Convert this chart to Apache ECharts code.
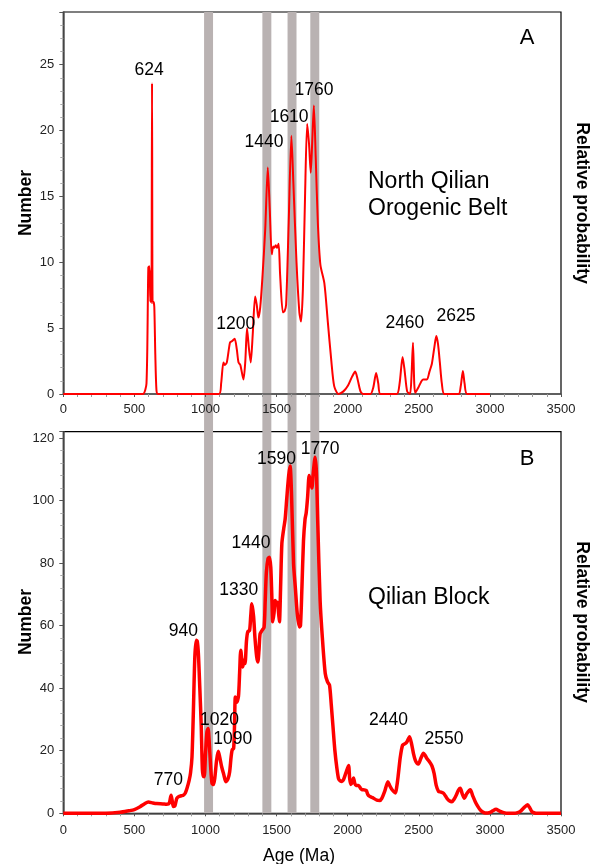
<!DOCTYPE html>
<html>
<head>
<meta charset="utf-8">
<script src="https://cdn.jsdelivr.net/npm/echarts@6/dist/echarts.min.js"></script>
<style>
  html, body { margin: 0; padding: 0; background: #fff; }
  #chart { width: 591px; height: 864px; }
</style>
</head>
<body>
<div id="chart"></div>
<script>
// Detrital zircon U-Pb age spectra (probability curves, number of grains)

// Panel A: North Qilian Orogenic Belt
const topAges = [0, 500, 560, 585, 598, 606, 612, 617, 620, 624, 628, 634, 640, 647, 655, 665,
  1095, 1110, 1126, 1136, 1150, 1172, 1185, 1205, 1220, 1232, 1245, 1267, 1280, 1292, 1305, 1318,
  1332, 1349, 1360, 1372, 1385, 1400, 1420, 1438, 1452, 1466, 1476, 1483, 1494, 1502, 1514, 1525,
  1544, 1556, 1567, 1585, 1604, 1618, 1640, 1660, 1672, 1685, 1700, 1715, 1728, 1740, 1750, 1762,
  1775, 1790, 1808, 1836, 1860, 1885, 1905, 1935, 1970, 2000, 2030, 2053, 2070, 2090, 2110, 2160,
  2180, 2200, 2215, 2230, 2345, 2365, 2386, 2400, 2418, 2438, 2448, 2459, 2468, 2475, 2497, 2515,
  2530, 2557, 2575, 2592, 2610, 2623, 2635, 2648, 2662, 2680, 2780, 2795, 2810, 2822, 2840, 3000];
const topCounts = [0, 0, 0, 0.8, 9.6, 9.7, 7.0, 9.4, 6.9, 23.6, 6.9, 7.0, 6.6, 3.0, 0.3, 0,
  0, 0.8, 2.4, 2.2, 2.4, 3.9, 4.0, 4.2, 3.4, 2.4, 2.2, 1.1, 2.5, 5.0, 3.5, 2.4,
  4.5, 7.4, 6.8, 5.8, 6.6, 8.8, 12.5, 17.2, 14.0, 10.6, 11.2, 11.1, 11.3, 11.1, 11.4, 9.0,
  6.2, 6.3, 6.8, 13.0, 19.6, 16.0, 10.0, 6.2, 5.5, 8.0, 15.0, 20.5, 19.0, 16.8, 19.0, 21.9,
  18.0, 13.0, 9.8, 8.4, 5.5, 2.5, 0.6, 0, 0.2, 0.6, 1.3, 1.7, 1.1, 0.2, 0, 0,
  0.5, 1.6, 0.8, 0, 0, 0.8, 2.8, 1.8, 0.2, 0, 1.2, 3.9, 0.8, 0.1, 0.5, 0.9,
  1.1, 1.1, 1.7, 2.3, 3.6, 4.4, 3.8, 2.4, 0.8, 0, 0, 0.6, 1.75, 0.8, 0, 0];

// Panel B: Qilian Block
const bottomAges = [0, 300, 400, 460, 500, 540, 570, 598, 630, 657, 700, 727, 745, 758, 766, 774,
  785, 798, 810, 830, 845, 858, 870, 885, 895, 905, 915, 925, 935, 942, 950, 960,
  970, 978, 984, 991, 1000, 1010, 1018, 1026, 1036, 1046, 1056, 1066, 1078, 1090, 1100, 1114,
  1128, 1143, 1158, 1170, 1180, 1188, 1198, 1204, 1210, 1220, 1232, 1240, 1248, 1262, 1270, 1278,
  1288, 1297, 1310, 1318, 1326, 1338, 1348, 1360, 1368, 1376, 1384, 1398, 1412, 1420, 1428, 1440,
  1450, 1459, 1466, 1473, 1482, 1490, 1498, 1506, 1514, 1520, 1528, 1537, 1550, 1560, 1572, 1585,
  1595, 1605, 1619, 1632, 1645, 1660, 1668, 1678, 1689, 1700, 1708, 1718, 1729, 1738, 1748, 1758,
  1771, 1780, 1790, 1806, 1822, 1842, 1858, 1872, 1884, 1896, 1910, 1924, 1936, 1947, 1960, 1971,
  1988, 2006, 2014, 2022, 2032, 2041, 2050, 2058, 2076, 2090, 2100, 2115, 2130, 2142, 2152, 2175,
  2205, 2225, 2240, 2260, 2283, 2296, 2311, 2335, 2345, 2355, 2370, 2386, 2404, 2416, 2435, 2451,
  2463, 2475, 2488, 2498, 2512, 2533, 2545, 2557, 2575, 2592, 2608, 2622, 2639, 2655, 2674, 2688,
  2698, 2715, 2733, 2748, 2763, 2780, 2792, 2805, 2820, 2838, 2862, 2880, 2897, 2915, 2932, 2950,
  2968, 2985, 3003, 3020, 3043, 3065, 3097, 3130, 3167, 3195, 3214, 3240, 3265, 3280, 3296, 3315,
  3331, 3500];
const bottomCounts = [0, 0, 0.3, 0.8, 1.2, 2.1, 3.0, 3.6, 3.3, 3.1, 3.0, 2.9, 3.2, 5.8, 4.0, 2.2,
  2.4, 4.8, 5.3, 5.6, 5.8, 6.5, 8.0, 10.5, 13, 18, 33, 50, 55.3, 55, 51, 40,
  28, 14, 12, 11.7, 19, 26, 27.1, 23, 15, 9.5, 9.2, 11.5, 17, 19.8, 18, 14.8,
  12.5, 10.1, 11, 13.3, 18, 20.3, 20.8, 28, 37.2, 35.5, 37.5, 45, 52.1, 46.8, 49, 47.9,
  55, 58, 58.5, 63, 67, 63, 56, 50, 48.4, 52, 57.4, 58.5, 59.5, 68, 77, 81.5,
  81.9, 78.7, 70, 61.2, 64, 68, 67, 67.5, 64, 61.2, 72, 86.2, 91, 94, 101, 108,
  111, 102, 80, 72, 64, 59.6, 60, 72, 87, 94, 96, 101, 108, 106, 104, 109,
  113.8, 109, 92, 68, 56, 44.7, 42, 41, 35, 28, 20, 14.4, 11, 10.4, 10.2, 10.8,
  13, 15.3, 11, 9.2, 10, 11.3, 9.5, 8.9, 8.9, 8, 7.6, 7.5, 7.3, 6, 5.5, 5,
  4.2, 4.1, 4.8, 7, 10.1, 8.8, 7.6, 6.5, 8.5, 12, 18, 21.8, 22.3, 22.8, 24.5, 21.8,
  19, 17, 16, 15.8, 17.3, 19.2, 18.5, 17.5, 16.5, 15.2, 12.7, 9, 7, 6.8, 6.4, 5.5,
  4.8, 4, 3.7, 4.5, 5.8, 7.5, 8, 6.3, 4.8, 6.3, 7.5, 5.5, 3.7, 2.2, 1.1, 0.4,
  0.1, 0.1, 0.3, 0.8, 1.3, 0.8, 0.2, 0, 0, 0.2, 0.6, 1.8, 2.7, 1.8, 0.5, 0.1,
  0, 0];

// Peak age labels: text, and the age / count where each label sits
const topPeakText = ['624', '1200', '1440', '1610', '1760', '2460', '2625'];
const topPeakAge = [603, 1212, 1412, 1588, 1763, 2402, 2761];
const topPeakCount = [24.6, 5.3, 19.1, 21.0, 23.1, 5.4, 5.9];
const bottomPeakText = ['770', '940', '1020', '1090', '1330', '1440', '1590', '1770', '2440', '2550'];
const bottomPeakAge = [739, 845, 1098, 1191, 1234, 1320, 1499, 1806, 2287, 2677];
const bottomPeakCount = [10.6, 58.2, 29.8, 23.7, 71.3, 86.5, 113.2, 116.4, 29.8, 23.7];

// Highlighted age intervals (Ma)
const bandStart = [990, 1400, 1577, 1737];
const bandEnd = [1053, 1463, 1640, 1800];

// Axis tick settings
const xTicks = { min: 0, max: 3500, interval: 500 };
const topY = { min: 0, max: 29, interval: 5 };
const bottomY = { min: 0, max: 122, interval: 20 };

const FONT = "'Liberation Sans', Arial, Helvetica, sans-serif";
const zip = (a, b) => a.map((v, i) => [v, b[i]]);

const chart = echarts.init(document.getElementById('chart'), null, { renderer: 'canvas' });

function xAxisDef(gridIndex, labelMargin) {
  return {
    type: 'value', gridIndex, min: xTicks.min, max: xTicks.max, interval: xTicks.interval,
    z: 3,
    axisLine: { show: true, onZero: false, lineStyle: { color: '#555', width: 1.5 } },
    axisTick: { show: true, inside: false, length: 3, lineStyle: { color: '#555' } },
    minorTick: { show: true, splitNumber: 5, length: 3, lineStyle: { color: '#999' } },
    splitLine: { show: false },
    axisLabel: { fontFamily: FONT, fontSize: 13, color: '#222', margin: labelMargin, formatter: v => String(v) }
  };
}
function yAxisDef(gridIndex, ax) {
  return {
    type: 'value', gridIndex, min: ax.min, max: ax.max, interval: ax.interval,
    z: 3,
    axisLine: { show: true, onZero: false, lineStyle: { color: '#555', width: 1.5 } },
    axisTick: { show: true, inside: false, length: 4, lineStyle: { color: '#555' } },
    minorTick: { show: true, splitNumber: 5, length: 3, lineStyle: { color: '#aaa' } },
    splitLine: { show: false },
    axisLabel: { fontFamily: FONT, fontSize: 13, color: '#222', margin: 9, showMaxLabel: false, formatter: v => String(v) }
  };
}
function peakSeries(xi, text, ages, counts) {
  return {
    type: 'scatter', xAxisIndex: xi, yAxisIndex: xi, silent: true, z: 6,
    symbolSize: 0,
    itemStyle: { opacity: 1 },
    data: zip(ages, counts),
    label: {
      show: true, position: 'inside', fontFamily: FONT, fontSize: 17.5, color: '#000', opacity: 1,
      textBorderWidth: 0, textBorderColor: 'transparent',
      formatter: p => text[p.dataIndex]
    }
  };
}

chart.setOption({
  animation: false,
  backgroundColor: '#fff',
  grid: [
    { left: 63.3, right: 30, top: 12, height: 382, show: true, borderColor: '#000', borderWidth: 1.2, backgroundColor: 'transparent' },
    { left: 63.3, right: 30, top: 431.7, height: 381.6, show: true, borderColor: '#000', borderWidth: 1.2, backgroundColor: 'transparent' }
  ],
  xAxis: [xAxisDef(0, 9), xAxisDef(1, 11)],
  yAxis: [yAxisDef(0, topY), yAxisDef(1, bottomY)],
  series: [
    {
      type: 'line', xAxisIndex: 0, yAxisIndex: 0, z: 5, silent: true,
      data: zip(topAges, topCounts), showSymbol: false, smooth: 0.25,
      lineStyle: { color: '#ff0000', width: 2 }
    },
    {
      type: 'line', xAxisIndex: 1, yAxisIndex: 1, z: 5, silent: true,
      data: zip(bottomAges, bottomCounts), showSymbol: false, smooth: 0.25,
      lineStyle: { color: '#ff0000', width: 3.5 }
    },
    peakSeries(0, topPeakText, topPeakAge, topPeakCount),
    peakSeries(1, bottomPeakText, bottomPeakAge, bottomPeakCount)
  ]
});

// Gray bands spanning both panels, placed through the axes' own scales
const yTopPx = chart.convertToPixel({ yAxisIndex: 0 }, topY.max);
const yBottomPx = chart.convertToPixel({ yAxisIndex: 1 }, bottomY.min);
const bands = bandStart.map((s, i) => {
  const x0 = chart.convertToPixel({ xAxisIndex: 0 }, s);
  const x1 = chart.convertToPixel({ xAxisIndex: 0 }, bandEnd[i]);
  return {
    type: 'rect', z: 1, silent: true,
    shape: { x: x0, y: yTopPx, width: x1 - x0, height: yBottomPx - yTopPx },
    style: { fill: '#b9b2b2' }
  };
});

function txt(text, x, y, size, align) {
  return {
    type: 'text', x, y, z: 10, silent: true,
    style: { text, fontFamily: FONT, fontSize: size, fill: '#000', align: align || 'center', verticalAlign: 'middle' }
  };
}
function boldTxt(text, x, y, rotation) {
  const t = txt(text, x, y, 17.5);
  t.rotation = rotation;
  t.style.fontWeight = 'bold';
  return t;
}

chart.setOption({
  graphic: bands.concat([
    txt('A', 527, 38, 22),
    txt('B', 527, 459, 22),
    txt('North Qilian', 368, 182, 23, 'left'),
    txt('Orogenic Belt', 368, 208.5, 23, 'left'),
    txt('Qilian Block', 368, 598, 23, 'left'),
    boldTxt('Number', 26, 203, Math.PI / 2),
    boldTxt('Number', 26, 622, Math.PI / 2),
    boldTxt('Relative probability', 582, 203, -Math.PI / 2),
    boldTxt('Relative probability', 582, 622, -Math.PI / 2),
    txt('Age (Ma)', 299, 856, 17.5)
  ])
});
</script>
</body>
</html>
